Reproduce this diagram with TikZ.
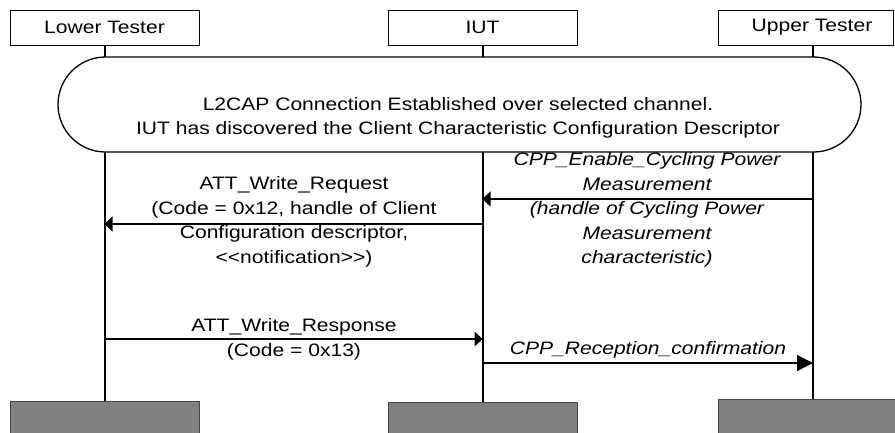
\documentclass[tikz,border=0pt]{standalone}
\usepackage{fontspec}
\setmainfont{Liberation Sans}[FakeStretch=1.17]
\usepackage{tikz}
\usetikzlibrary{shapes,arrows,fit, positioning, arrows.meta}
\usetikzlibrary{backgrounds}

\definecolor{endfill}{RGB}{128,128,128}
\definecolor{endline}{RGB}{70,70,70}

\begin{document}
\begin{tikzpicture}[x=1pt,y=1pt,yscale=-1,xscale=1,
  every node/.style={font=\fontsize{18}{24.5}\selectfont},
  party/.style={draw,line width=1pt,minimum height=35pt,inner sep=0pt},
  partyend/.style={draw=endline,fill=endfill,line width=1pt,minimum height=42pt,anchor=north,inner sep=0pt},
  life/.style={line width=2pt},
  msg/.style={line width=1.3pt,-{Triangle[length=8pt,width=15pt]}},
  txt/.style={inner sep=0pt,align=center},
  itxt/.style={txt,font=\fontsize{18}{24.5}\selectfont\itshape}]
\useasboundingbox (0,0) rectangle (895,432);

%Shape: Rectangle
\node[party, minimum width=189pt] (lt) at (104.5,27.5) {Lower Tester};
\node[party, minimum width=189pt] (iut) at (482.5,27.5) {IUT};
\node[party, minimum width=175pt] (ut) at (805.5,27.5) {\hspace{13pt}Upper Tester};
%Shape: Rectangle
\node[partyend, minimum width=189pt] (ltEnd) at (104.5,401) {};
\node[partyend, minimum width=189pt] (iutEnd) at (482.5,402) {};
\node[partyend, minimum width=190pt] (utEnd) at (813,399) {};

%Straight Lines
\draw[life] (ltEnd.north) -- (ltEnd.north |- lt.south);
\draw[life] (iutEnd.north) -- (iutEnd.north |- iut.south);
\draw[life] (utEnd.north) -- (utEnd.north |- ut.south);

%Shape: Rounded Rectangle
\node[draw, line width=1.3pt, fill=white, rounded rectangle, minimum width=803pt, minimum height=95pt, inner sep=0pt] (conn) at (459.5,104.5) {};
% Text Node
\node[txt] (connTxt) at (458,118) {L2CAP Connection Established over selected channel.\\IUT has discovered the Client Characteristic Configuration Descriptor};

\coordinate (enableRow) at (0,199);
\coordinate (requestRow) at (0,224);
\coordinate (responseRow) at (0,339);
\coordinate (receptionRow) at (0,363);

%Straight Lines
\draw[msg] (utEnd.north |- enableRow) -- (iutEnd.north |- enableRow);
\draw[msg] (iutEnd.north |- requestRow) -- (ltEnd.north |- requestRow);
\draw[msg] (ltEnd.north |- responseRow) -- (iutEnd.north |- responseRow);
\draw[msg, -{Triangle[length=16pt,width=16pt]}] (iutEnd.north |- receptionRow) -- (utEnd.north |- receptionRow);

% Text Node
\node[itxt] (enableTxt) at (647,210) {CPP\_Enable\_Cycling Power\\Measurement\\(handle of Cycling Power\\Measurement\\characteristic)};
% Text Node
\node[txt] (requestTxt) at (294,222) {ATT\_Write\_Request\\(Code = 0x12, handle of Client\\Configuration descriptor,\\<{}<notification>{}>)};
% Text Node
\node[txt] (responseTxt) at (294,339.5) {ATT\_Write\_Response\\(Code = 0x13)};
% Text Node
\node[itxt] (receptionTxt) at (648,350) {CPP\_Reception\_confirmation};
\end{tikzpicture}
\end{document}
